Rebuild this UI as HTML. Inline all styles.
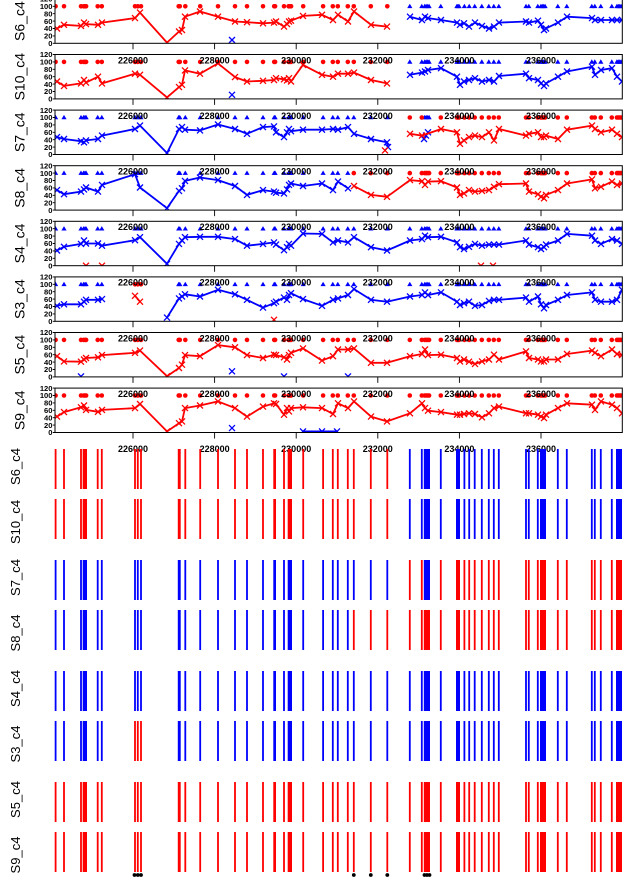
<!DOCTYPE html>
<html><head><meta charset="utf-8">
<style>
html,body{margin:0;padding:0;background:#fff;}
svg{display:block;}
.lr{fill:none;stroke:#f00;stroke-width:1.8;stroke-linejoin:round;marker-start:url(#xr);marker-mid:url(#xr);marker-end:url(#xr);}
.lb{fill:none;stroke:#00f;stroke-width:1.8;stroke-linejoin:round;marker-start:url(#xb);marker-mid:url(#xb);marker-end:url(#xb);}
.pr{fill:none;stroke:none;marker-start:url(#dr);marker-mid:url(#dr);marker-end:url(#dr);}
.pb{fill:none;stroke:none;marker-start:url(#tb);marker-mid:url(#tb);marker-end:url(#tb);}
.exr{fill:none;stroke:#f00;stroke-width:1.3;}
.exb{fill:none;stroke:#00f;stroke-width:1.3;}
.box{fill:none;stroke:#000;stroke-width:1;}
.tk{fill:none;stroke:#000;stroke-width:0.9;}
.yl{font-family:"Liberation Sans",Arial,sans-serif;font-size:7.6px;font-weight:bold;text-anchor:end;fill:#000;}
.xl{font-family:"Liberation Sans",Arial,sans-serif;font-size:9px;font-weight:bold;text-anchor:middle;fill:#000;}
.lab{font-family:"Liberation Sans",Arial,sans-serif;font-size:14px;text-anchor:middle;fill:#000;}
.lab2{font-family:"Liberation Sans",Arial,sans-serif;font-size:13px;text-anchor:middle;fill:#000;}
.br{fill:none;stroke:#f00;stroke-width:1.8;}
.bb{fill:none;stroke:#00f;stroke-width:1.8;}
</style></head>
<body>
<svg width="626" height="881" viewBox="0 0 626 881" xmlns="http://www.w3.org/2000/svg">
<defs>
<marker id="xr" markerUnits="userSpaceOnUse" markerWidth="10" markerHeight="10" refX="5" refY="5" overflow="visible"><path d="M2,2L8,8M2,8L8,2" stroke="#f00" stroke-width="1.3" fill="none"/></marker>
<marker id="xb" markerUnits="userSpaceOnUse" markerWidth="10" markerHeight="10" refX="5" refY="5" overflow="visible"><path d="M2,2L8,8M2,8L8,2" stroke="#00f" stroke-width="1.3" fill="none"/></marker>
<marker id="dr" markerUnits="userSpaceOnUse" markerWidth="10" markerHeight="10" refX="5" refY="5" overflow="visible"><circle cx="5" cy="5" r="2.3" fill="#f00"/></marker>
<marker id="tb" markerUnits="userSpaceOnUse" markerWidth="10" markerHeight="10" refX="5" refY="5" overflow="visible"><path d="M5,2.4L7.6,6.8L2.4,6.8Z" fill="#00f"/></marker>
<clipPath id="c0"><rect x="55" y="-1.1" width="567.3" height="44.4"/></clipPath>
<clipPath id="c1"><rect x="55" y="54.5" width="567.3" height="44.4"/></clipPath>
<clipPath id="c2"><rect x="55" y="110.1" width="567.3" height="44.4"/></clipPath>
<clipPath id="c3"><rect x="55" y="165.7" width="567.3" height="44.4"/></clipPath>
<clipPath id="c4"><rect x="55" y="221.3" width="567.3" height="44.4"/></clipPath>
<clipPath id="c5"><rect x="55" y="276.9" width="567.3" height="44.4"/></clipPath>
<clipPath id="c6"><rect x="55" y="332.5" width="567.3" height="44.4"/></clipPath>
<clipPath id="c7"><rect x="55" y="388.1" width="567.3" height="44.4"/></clipPath>
</defs>
<rect x="0" y="0" width="626" height="881" fill="#fff"/>

<!-- ===== Panel 0 S6 ===== -->
<g clip-path="url(#c0)"><g transform="translate(0,43.3)">
<polyline class="pr" transform="translate(0,-37)" points="55.6,0 64,0 81,0 83.6,0 85,0 86.1,0 97.7,0 101.8,0 178.7,0 179.8,0 185.3,0 200.2,0 218,0 235,0 247,0 263,0 274.2,0 275.1,0 284,0 288.6,0 290,0 291.1,0 303.2,0 135,0 137.8,0 141,0 323.1,0 332.8,0 337.8,0 347.8,0 353.8,0 370.8,0 387.3,0"/>
<polyline class="pb" transform="translate(0,-37)" points="409.8,0 421.8,0 424.7,0 426.2,0 427.7,0 429.1,0 440.8,0 456.9,0 458,0 459.1,0 464.4,0 469.2,0 474.7,0 481.8,0 488.8,0 493.8,0 498.8,0 526,0 528.8,0 537.8,0 540.9,0 542.3,0 543.7,0 545.1,0 557.8,0 566.8,0 591.8,0 594.8,0 600.8,0 611.8,0 616.9,0 618.3,0 619.7,0 621.1,0"/>
<polyline class="lr" points="57,-14.8 64,-18.5 81,-17.4 84,-20.7 86,-19.2 98,-18.5 102,-20.7 135,-25.2 140,-30.7 167,-0.7 179,-11.8 182,-13.3 185,-26.6 200,-31.8 218,-26.6 235,-21.8 247,-21.1 263,-20 274,-20.7 276,-21.8 284,-16.7 287,-19.2 289,-21.8 291,-22.6 303,-27.4 322,-28.5 333,-23.3 338,-28.5 348,-21.8 354,-31.8 371,-18.5 387,-16.7"/>
<polyline class="lb" points="410,-26.6 422,-23.3 425,-26.6 428,-25.2 441,-23.3 457,-20.7 460,-18.5 464,-20 469,-16.7 475,-20.7 482,-17.4 489,-14.8 494,-16.7 499,-20.7 526,-21.8 529,-20.7 538,-22.6 541,-18.5 544,-13.3 546,-14.8 558,-20.7 567,-26.6 592,-25.2 595,-23.3 601,-23.3 612,-23.3 617,-23.3 622,-23.3"/>
<path class="exb" d="M229,-6.3l6,6m-6,0l6,-6"/>
</g></g>
<g transform="translate(0,43.3)">
<rect class="box" x="55" y="-44.4" width="567.3" height="44.4"/>
<path class="tk" d="M52.8 0H55M52.8 -7.4H55M52.8 -14.8H55M52.8 -22.2H55M52.8 -29.6H55M52.8 -37H55M52.8 -44.4H55M133 0V6M214.6 0V6M296.2 0V6M377.8 0V6M459.4 0V6M541 0V6"/>
<text class="yl" x="52.5" y="2.7">0</text><text class="yl" x="52.5" y="-4.7">20</text><text class="yl" x="52.5" y="-12.1">40</text><text class="yl" x="52.5" y="-19.5">60</text><text class="yl" x="52.5" y="-26.9">80</text><text class="yl" x="52.5" y="-34.3">100</text><text class="yl" x="52.5" y="-41.7">120</text>
</g>
<text class="lab" transform="translate(24.5,21.1) rotate(-90)">S6_c4</text>

<!-- ===== Panel 1 S10 ===== -->
<g clip-path="url(#c1)"><g transform="translate(0,98.9)">
<polyline class="pr" transform="translate(0,-37)" points="55.6,0 64,0 81,0 83.6,0 85,0 86.1,0 97.7,0 101.8,0 178.7,0 179.8,0 185.3,0 200.2,0 218,0 235,0 247,0 263,0 274.2,0 275.1,0 284,0 288.6,0 290,0 291.1,0 303.2,0 135,0 137.8,0 141,0 323.1,0 332.8,0 337.8,0 347.8,0 353.8,0 370.8,0 387.3,0"/>
<polyline class="pb" transform="translate(0,-37)" points="409.8,0 421.8,0 424.7,0 426.2,0 427.7,0 429.1,0 440.8,0 456.9,0 458,0 459.1,0 464.4,0 469.2,0 474.7,0 481.8,0 488.8,0 493.8,0 498.8,0 526,0 528.8,0 537.8,0 540.9,0 542.3,0 543.7,0 545.1,0 557.8,0 566.8,0 591.8,0 594.8,0 600.8,0 611.8,0 616.9,0 618.3,0 619.7,0 621.1,0"/>
<polyline class="lr" points="57,-17.4 64,-13 81,-15.5 84,-18.9 86,-16.3 98,-22.2 102,-15.5 135,-25.2 140,-24.1 167,-1.5 179,-11.8 182,-14.1 185,-28.5 200,-25.2 218,-35.5 235,-21.8 247,-17.4 263,-18.1 274,-18.9 276,-20.7 284,-19.6 287,-18.5 289,-20.7 291,-17.4 303,-34 322,-24.1 333,-22.2 338,-25.2 348,-25.2 354,-26.3 371,-18.9 387,-15.5"/>
<polyline class="lb" points="410,-24.1 422,-26.3 425,-27.4 428,-28.9 441,-30.7 457,-22.2 460,-14.1 464,-17.4 469,-18.9 475,-20.7 482,-17.4 489,-18.9 494,-17.4 499,-22.9 526,-25.2 529,-20.7 538,-18.9 541,-15.5 544,-13 546,-15.5 558,-22.2 567,-27.4 592,-32.2 595,-24.1 601,-28.9 612,-30.7 617,-22.2 622,-17.4"/>
<path class="exb" d="M229,-7.1l6,6m-6,0l6,-6"/>
</g></g>
<g transform="translate(0,98.9)">
<rect class="box" x="55" y="-44.4" width="567.3" height="44.4"/>
<path class="tk" d="M52.8 0H55M52.8 -7.4H55M52.8 -14.8H55M52.8 -22.2H55M52.8 -29.6H55M52.8 -37H55M52.8 -44.4H55M133 0V6M214.6 0V6M296.2 0V6M377.8 0V6M459.4 0V6M541 0V6"/>
<text class="yl" x="52.5" y="2.7">0</text><text class="yl" x="52.5" y="-4.7">20</text><text class="yl" x="52.5" y="-12.1">40</text><text class="yl" x="52.5" y="-19.5">60</text><text class="yl" x="52.5" y="-26.9">80</text><text class="yl" x="52.5" y="-34.3">100</text><text class="yl" x="52.5" y="-41.7">120</text>
</g>
<text class="lab" transform="translate(24.5,76.7) rotate(-90)">S10_c4</text>

<!-- ===== Panel 2 S7 ===== -->
<g clip-path="url(#c2)"><g transform="translate(0,154.5)">
<polyline class="pb" transform="translate(0,-37)" points="55.6,0 64,0 81,0 83.6,0 85,0 86.1,0 97.7,0 101.8,0 178.7,0 179.8,0 185.3,0 200.2,0 218,0 235,0 247,0 263,0 274.2,0 275.1,0 284,0 288.6,0 290,0 291.1,0 303.2,0 135,0 137.8,0 141,0 323.1,0 332.8,0 337.8,0 347.8,0 353.8,0 370.8,0 387.3,0 424.7,0 426.2,0 427.7,0 429.1,0"/>
<polyline class="pr" transform="translate(0,-37)" points="409.8,0 421.8,0 440.8,0 456.9,0 458,0 459.1,0 464.4,0 469.2,0 474.7,0 481.8,0 488.8,0 493.8,0 498.8,0 526,0 528.8,0 537.8,0 540.9,0 542.3,0 543.7,0 545.1,0 557.8,0 566.8,0 591.8,0 594.8,0 600.8,0 611.8,0 616.9,0 618.3,0 619.7,0 621.1,0"/>
<polyline class="lb" points="57,-17.4 64,-15.5 81,-13.3 84,-12.2 86,-14.1 98,-15.5 102,-18.9 135,-25.5 140,-28.9 167,-1.5 179,-25.5 182,-27.4 185,-24.8 200,-24.1 218,-30 235,-25.5 247,-20.7 263,-27.4 274,-28.1 276,-22.2 284,-17.4 287,-22.2 289,-25.5 291,-23.3 303,-24.8 322,-24.8 333,-25.5 338,-24.8 348,-27.4 354,-20.7 371,-15.5 387,-12.2 388,-7.4"/>
<polyline class="lb" points="424,-15.5 426,-18.9 428,-22.2"/>
<polyline class="lr" points="410,-20.7 422,-18.9 441,-25.5 457,-22.2 460,-10.7 464,-14.1 469,-17.4 475,-18.9 482,-17.4 489,-22.2 494,-14.1 499,-25.5 526,-18.9 529,-20.7 538,-22.2 541,-17.4 544,-17.4 546,-18.9 558,-15.5 567,-24.8 592,-28.9 595,-25.5 601,-22.2 612,-24.8 617,-20.7 622,-17.4"/>
<path class="exr" d="M382,-7.1l6,6m-6,0l6,-6"/>
</g></g>
<g transform="translate(0,154.5)">
<rect class="box" x="55" y="-44.4" width="567.3" height="44.4"/>
<path class="tk" d="M52.8 0H55M52.8 -7.4H55M52.8 -14.8H55M52.8 -22.2H55M52.8 -29.6H55M52.8 -37H55M52.8 -44.4H55M133 0V6M214.6 0V6M296.2 0V6M377.8 0V6M459.4 0V6M541 0V6"/>
<text class="yl" x="52.5" y="2.7">0</text><text class="yl" x="52.5" y="-4.7">20</text><text class="yl" x="52.5" y="-12.1">40</text><text class="yl" x="52.5" y="-19.5">60</text><text class="yl" x="52.5" y="-26.9">80</text><text class="yl" x="52.5" y="-34.3">100</text><text class="yl" x="52.5" y="-41.7">120</text>
</g>
<text class="lab" transform="translate(24.5,132.3) rotate(-90)">S7_c4</text>

<!-- ===== Panel 3 S8 ===== -->
<g clip-path="url(#c3)"><g transform="translate(0,210.1)">
<polyline class="pb" transform="translate(0,-37)" points="55.6,0 64,0 81,0 83.6,0 85,0 86.1,0 97.7,0 101.8,0 178.7,0 179.8,0 185.3,0 200.2,0 218,0 235,0 247,0 263,0 274.2,0 275.1,0 284,0 288.6,0 290,0 291.1,0 303.2,0 135,0 137.8,0 141,0 323.1,0 332.8,0 337.8,0 347.8,0"/>
<polyline class="pr" transform="translate(0,-37)" points="353.8,0 370.8,0 387.3,0 409.8,0 421.8,0 424.7,0 426.2,0 427.7,0 429.1,0 440.8,0 456.9,0 458,0 459.1,0 464.4,0 469.2,0 474.7,0 481.8,0 488.8,0 493.8,0 498.8,0 526,0 528.8,0 537.8,0 540.9,0 542.3,0 543.7,0 545.1,0 557.8,0 566.8,0 591.8,0 594.8,0 600.8,0 611.8,0 616.9,0 618.3,0 619.7,0 621.1,0"/>
<polyline class="lb" points="57,-20 64,-15.9 81,-18.5 84,-20.7 86,-22.6 98,-18.5 102,-25.2 135,-35.9 140,-22.6 167,-1.9 179,-19.2 182,-21.8 185,-29.2 200,-32.6 218,-30 235,-24.1 247,-15.2 263,-20 274,-18.5 276,-17.4 284,-16.7 287,-20.7 289,-25.2 291,-26.6 303,-24.1 322,-26.6 333,-20 338,-28.5 348,-21.8"/>
<polyline class="lr" points="354,-24.1 371,-15.2 387,-13.3 410,-30 422,-28.9 425,-25.2 428,-28.5 441,-28.9 457,-22.6 460,-15.2 464,-16.7 469,-20 475,-18.5 482,-19.2 489,-20 494,-23.3 499,-25.9 526,-26.6 529,-18.5 538,-15.9 541,-13.3 544,-11.8 546,-15.2 558,-20 567,-26.6 592,-30.7 595,-21.8 601,-23.3 612,-28.5 617,-25.2 622,-26.6"/>
</g></g>
<g transform="translate(0,210.1)">
<rect class="box" x="55" y="-44.4" width="567.3" height="44.4"/>
<path class="tk" d="M52.8 0H55M52.8 -7.4H55M52.8 -14.8H55M52.8 -22.2H55M52.8 -29.6H55M52.8 -37H55M52.8 -44.4H55M133 0V6M214.6 0V6M296.2 0V6M377.8 0V6M459.4 0V6M541 0V6"/>
<text class="yl" x="52.5" y="2.7">0</text><text class="yl" x="52.5" y="-4.7">20</text><text class="yl" x="52.5" y="-12.1">40</text><text class="yl" x="52.5" y="-19.5">60</text><text class="yl" x="52.5" y="-26.9">80</text><text class="yl" x="52.5" y="-34.3">100</text><text class="yl" x="52.5" y="-41.7">120</text>
</g>
<text class="lab" transform="translate(24.5,187.9) rotate(-90)">S8_c4</text>

<!-- ===== Panel 4 S4 ===== -->
<g clip-path="url(#c4)"><g transform="translate(0,265.7)">
<polyline class="pb" transform="translate(0,-37)" points="55.6,0 64,0 81,0 83.6,0 85,0 86.1,0 97.7,0 101.8,0 178.7,0 179.8,0 185.3,0 200.2,0 218,0 235,0 247,0 263,0 274.2,0 275.1,0 284,0 288.6,0 290,0 291.1,0 303.2,0 135,0 137.8,0 141,0 323.1,0 332.8,0 337.8,0 347.8,0 353.8,0 370.8,0 387.3,0 409.8,0 421.8,0 424.7,0 426.2,0 427.7,0 429.1,0 440.8,0 456.9,0 458,0 459.1,0 464.4,0 469.2,0 474.7,0 481.8,0 488.8,0 493.8,0 498.8,0 526,0 528.8,0 537.8,0 540.9,0 542.3,0 543.7,0 545.1,0 557.8,0 566.8,0 591.8,0 594.8,0 600.8,0 611.8,0 616.9,0 618.3,0 619.7,0 621.1,0"/>
<polyline class="lb" points="57,-15.2 64,-18.9 81,-21.8 84,-25.2 86,-22.2 98,-22.2 102,-20 135,-25.5 140,-28.5 167,-1.9 179,-21.8 182,-25.2 185,-28.5 200,-28.9 218,-28.9 235,-26.6 247,-20 263,-21.8 274,-23.3 276,-21.1 284,-15.5 287,-18.5 289,-21.8 291,-20 303,-32.2 322,-31.8 333,-23.3 338,-25.2 348,-23.3 354,-28.5 371,-18.5 387,-15.2 410,-25.2 422,-26.6 425,-30 428,-28.5 441,-28.9 457,-23.3 460,-18.5 464,-16.7 469,-18.9 475,-21.8 482,-20 489,-21.1 494,-21.1 499,-21.1 526,-25.2 529,-21.1 538,-18.5 541,-16.7 544,-18.5 546,-21.1 558,-25.2 567,-31.8 592,-30 595,-25.2 601,-21.8 612,-26.6 617,-25.2 622,-21.8"/>
<path class="exr" d="M83,-3l6,6m-6,0l6,-6M99,-3l6,6m-6,0l6,-6M478,-3l6,6m-6,0l6,-6M490,-3l6,6m-6,0l6,-6"/>
</g></g>
<g transform="translate(0,265.7)">
<rect class="box" x="55" y="-44.4" width="567.3" height="44.4"/>
<path class="tk" d="M52.8 0H55M52.8 -7.4H55M52.8 -14.8H55M52.8 -22.2H55M52.8 -29.6H55M52.8 -37H55M52.8 -44.4H55M133 0V6M214.6 0V6M296.2 0V6M377.8 0V6M459.4 0V6M541 0V6"/>
<text class="yl" x="52.5" y="2.7">0</text><text class="yl" x="52.5" y="-4.7">20</text><text class="yl" x="52.5" y="-12.1">40</text><text class="yl" x="52.5" y="-19.5">60</text><text class="yl" x="52.5" y="-26.9">80</text><text class="yl" x="52.5" y="-34.3">100</text><text class="yl" x="52.5" y="-41.7">120</text>
</g>
<text class="lab" transform="translate(24.5,243.5) rotate(-90)">S4_c4</text>

<!-- ===== Panel 5 S3 ===== -->
<g clip-path="url(#c5)"><g transform="translate(0,321.3)">
<polyline class="pb" transform="translate(0,-37)" points="55.6,0 64,0 81,0 83.6,0 85,0 86.1,0 97.7,0 101.8,0 178.7,0 179.8,0 185.3,0 200.2,0 218,0 235,0 247,0 263,0 274.2,0 275.1,0 284,0 288.6,0 290,0 291.1,0 303.2,0 323.1,0 332.8,0 337.8,0 347.8,0 353.8,0 370.8,0 387.3,0 409.8,0 421.8,0 424.7,0 426.2,0 427.7,0 429.1,0 440.8,0 456.9,0 458,0 459.1,0 464.4,0 469.2,0 474.7,0 481.8,0 488.8,0 493.8,0 498.8,0 526,0 528.8,0 537.8,0 540.9,0 542.3,0 543.7,0 545.1,0 557.8,0 566.8,0 591.8,0 594.8,0 600.8,0 611.8,0 616.9,0 618.3,0 619.7,0 621.1,0"/>
<polyline class="pr" transform="translate(0,-37)" points="135,0 137.8,0 141,0"/>
<polyline class="lb" points="57,-15.5 64,-17 81,-17 84,-19.6 86,-21.5 98,-21.5 102,-22.2"/>
<polyline class="lr" points="135,-25.5 140,-19.6"/>
<polyline class="lb" points="167,-3.7 179,-22.9 182,-24.8 185,-27 200,-24.8 218,-31.5 235,-27 247,-21.5 263,-13.7 274,-18.1 276,-19.6 284,-23.7 287,-21.5 289,-26.3 291,-28.1 303,-22.2 322,-15.5 333,-21.5 338,-22.9 348,-26.3 354,-32.2 371,-21.5 387,-19.6 410,-24.8 422,-26.3 425,-28.9 428,-26.3 441,-28.9 457,-19.6 460,-16.3 464,-18.1 469,-19.6 475,-15.5 482,-16.3 489,-20.4 494,-21.5 499,-21.5 526,-23.7 529,-19.6 538,-24.8 541,-17 544,-13 546,-16.3 558,-21.5 567,-26.3 592,-28.9 595,-21.5 601,-19.6 612,-19.6 617,-21.5 622,-31.5"/>
<path class="exr" d="M271,-4.5l6,6m-6,0l6,-6"/>
</g></g>
<g transform="translate(0,321.3)">
<rect class="box" x="55" y="-44.4" width="567.3" height="44.4"/>
<path class="tk" d="M52.8 0H55M52.8 -7.4H55M52.8 -14.8H55M52.8 -22.2H55M52.8 -29.6H55M52.8 -37H55M52.8 -44.4H55M133 0V6M214.6 0V6M296.2 0V6M377.8 0V6M459.4 0V6M541 0V6"/>
<text class="yl" x="52.5" y="2.7">0</text><text class="yl" x="52.5" y="-4.7">20</text><text class="yl" x="52.5" y="-12.1">40</text><text class="yl" x="52.5" y="-19.5">60</text><text class="yl" x="52.5" y="-26.9">80</text><text class="yl" x="52.5" y="-34.3">100</text><text class="yl" x="52.5" y="-41.7">120</text>
</g>
<text class="lab" transform="translate(24.5,299.1) rotate(-90)">S3_c4</text>

<!-- ===== Panel 6 S5 ===== -->
<g clip-path="url(#c6)"><g transform="translate(0,376.9)">
<polyline class="pr" transform="translate(0,-37)" points="55.6,0 64,0 81,0 83.6,0 85,0 86.1,0 97.7,0 101.8,0 178.7,0 179.8,0 185.3,0 200.2,0 218,0 235,0 247,0 263,0 274.2,0 275.1,0 284,0 288.6,0 290,0 291.1,0 303.2,0 135,0 137.8,0 141,0 323.1,0 332.8,0 337.8,0 347.8,0 353.8,0 370.8,0 387.3,0 409.8,0 421.8,0 424.7,0 426.2,0 427.7,0 429.1,0 440.8,0 456.9,0 458,0 459.1,0 464.4,0 469.2,0 474.7,0 481.8,0 488.8,0 493.8,0 498.8,0 526,0 528.8,0 537.8,0 540.9,0 542.3,0 543.7,0 545.1,0 557.8,0 566.8,0 591.8,0 594.8,0 600.8,0 611.8,0 616.9,0 618.3,0 619.7,0 621.1,0"/>
<polyline class="lr" points="57,-20.7 64,-15.5 81,-15.2 84,-17.4 86,-18.9 98,-19.6 102,-21.8 135,-24.1 140,-26.3 167,-0.7 179,-8.9 182,-12.2 185,-21.8 200,-20.7 218,-31.8 235,-29.6 247,-21.8 263,-18.9 274,-22.2 276,-21.8 284,-19.6 287,-17.4 289,-21.8 291,-24.1 303,-28.5 322,-16.3 333,-20.7 338,-27.4 348,-27.4 354,-28.5 371,-14.1 387,-14.1 410,-20.7 422,-22.9 425,-27.4 428,-21.8 441,-22.2 457,-18.9 460,-15.5 464,-17.4 469,-15.2 475,-13 482,-15.5 489,-17.4 494,-22.2 499,-17.4 526,-25.5 529,-18.9 538,-17.4 541,-15.5 544,-15.5 546,-17.4 558,-17.4 567,-22.9 592,-26.3 595,-24.1 601,-20.7 612,-27.4 617,-22.9 622,-21.8"/>
<path class="exb" d="M78,-3.5l6,6m-6,0l6,-6M281,-3.5l6,6m-6,0l6,-6M229,-8.6l6,6m-6,0l6,-6M345,-3.5l6,6m-6,0l6,-6"/>
</g></g>
<g transform="translate(0,376.9)">
<rect class="box" x="55" y="-44.4" width="567.3" height="44.4"/>
<path class="tk" d="M52.8 0H55M52.8 -7.4H55M52.8 -14.8H55M52.8 -22.2H55M52.8 -29.6H55M52.8 -37H55M52.8 -44.4H55M133 0V6M214.6 0V6M296.2 0V6M377.8 0V6M459.4 0V6M541 0V6"/>
<text class="yl" x="52.5" y="2.7">0</text><text class="yl" x="52.5" y="-4.7">20</text><text class="yl" x="52.5" y="-12.1">40</text><text class="yl" x="52.5" y="-19.5">60</text><text class="yl" x="52.5" y="-26.9">80</text><text class="yl" x="52.5" y="-34.3">100</text><text class="yl" x="52.5" y="-41.7">120</text>
</g>
<text class="lab" transform="translate(24.5,354.7) rotate(-90)">S5_c4</text>

<!-- ===== Panel 7 S9 ===== -->
<g clip-path="url(#c7)"><g transform="translate(0,432.5)">
<polyline class="pr" transform="translate(0,-37)" points="55.6,0 64,0 81,0 83.6,0 85,0 86.1,0 97.7,0 101.8,0 178.7,0 179.8,0 185.3,0 200.2,0 218,0 235,0 247,0 263,0 274.2,0 275.1,0 284,0 288.6,0 290,0 291.1,0 303.2,0 135,0 137.8,0 141,0 323.1,0 332.8,0 337.8,0 347.8,0 353.8,0 370.8,0 387.3,0 409.8,0 421.8,0 424.7,0 426.2,0 427.7,0 429.1,0 440.8,0 456.9,0 458,0 459.1,0 464.4,0 469.2,0 474.7,0 481.8,0 488.8,0 493.8,0 498.8,0 526,0 528.8,0 537.8,0 540.9,0 542.3,0 543.7,0 545.1,0 557.8,0 566.8,0 591.8,0 594.8,0 600.8,0 611.8,0 616.9,0 618.3,0 619.7,0 621.1,0"/>
<polyline class="lr" points="57,-15.9 64,-20.4 81,-25.2 84,-27 86,-22.6 98,-20.7 102,-22.6 135,-24.4 140,-28.5 167,-1.1 179,-9.3 182,-11.1 185,-24.4 200,-27 218,-31.1 235,-24.4 247,-15.9 263,-25.9 274,-29.2 276,-28.5 284,-17.8 287,-24.4 289,-21.1 291,-24.4 303,-25.2 322,-24.4 333,-18.5 338,-29.2 348,-24.4 354,-31.1 371,-15.9 387,-11.1 410,-19.2 422,-29.2 425,-24.4 428,-21.8 441,-20.4 457,-17.8 460,-17.8 464,-18.5 469,-19.2 475,-18.5 482,-15.2 489,-19.2 494,-24.4 499,-25.9 526,-19.2 529,-19.2 538,-17.8 541,-15.9 544,-14.4 546,-17.8 558,-24.4 567,-29.2 592,-27.8 595,-22.6 601,-31.1 612,-27.8 617,-24.4 622,-19.2"/>
<polyline class="lb" points="303,-1.1 322,-1.1 337,-1.1"/>
<path class="exb" d="M229,-7.4l6,6m-6,0l6,-6"/>
</g></g>
<g transform="translate(0,432.5)">
<rect class="box" x="55" y="-44.4" width="567.3" height="44.4"/>
<path class="tk" d="M52.8 0H55M52.8 -7.4H55M52.8 -14.8H55M52.8 -22.2H55M52.8 -29.6H55M52.8 -37H55M52.8 -44.4H55M133 0V6M214.6 0V6M296.2 0V6M377.8 0V6M459.4 0V6M541 0V6"/>
<text class="yl" x="52.5" y="2.7">0</text><text class="yl" x="52.5" y="-4.7">20</text><text class="yl" x="52.5" y="-12.1">40</text><text class="yl" x="52.5" y="-19.5">60</text><text class="yl" x="52.5" y="-26.9">80</text><text class="yl" x="52.5" y="-34.3">100</text><text class="yl" x="52.5" y="-41.7">120</text>
</g>
<text class="lab" transform="translate(24.5,410.3) rotate(-90)">S9_c4</text>

<!-- x tick labels (drawn on top) -->
<g transform="translate(0,63.3)"><text class="xl" x="133" y="0">226000</text><text class="xl" x="214.6" y="0">228000</text><text class="xl" x="296.2" y="0">230000</text><text class="xl" x="377.8" y="0">232000</text><text class="xl" x="459.4" y="0">234000</text><text class="xl" x="541" y="0">236000</text></g>
<g transform="translate(0,118.9)"><text class="xl" x="133" y="0">226000</text><text class="xl" x="214.6" y="0">228000</text><text class="xl" x="296.2" y="0">230000</text><text class="xl" x="377.8" y="0">232000</text><text class="xl" x="459.4" y="0">234000</text><text class="xl" x="541" y="0">236000</text></g>
<g transform="translate(0,174.5)"><text class="xl" x="133" y="0">226000</text><text class="xl" x="214.6" y="0">228000</text><text class="xl" x="296.2" y="0">230000</text><text class="xl" x="377.8" y="0">232000</text><text class="xl" x="459.4" y="0">234000</text><text class="xl" x="541" y="0">236000</text></g>
<g transform="translate(0,230.1)"><text class="xl" x="133" y="0">226000</text><text class="xl" x="214.6" y="0">228000</text><text class="xl" x="296.2" y="0">230000</text><text class="xl" x="377.8" y="0">232000</text><text class="xl" x="459.4" y="0">234000</text><text class="xl" x="541" y="0">236000</text></g>
<g transform="translate(0,285.7)"><text class="xl" x="133" y="0">226000</text><text class="xl" x="214.6" y="0">228000</text><text class="xl" x="296.2" y="0">230000</text><text class="xl" x="377.8" y="0">232000</text><text class="xl" x="459.4" y="0">234000</text><text class="xl" x="541" y="0">236000</text></g>
<g transform="translate(0,341.3)"><text class="xl" x="133" y="0">226000</text><text class="xl" x="214.6" y="0">228000</text><text class="xl" x="296.2" y="0">230000</text><text class="xl" x="377.8" y="0">232000</text><text class="xl" x="459.4" y="0">234000</text><text class="xl" x="541" y="0">236000</text></g>
<g transform="translate(0,396.9)"><text class="xl" x="133" y="0">226000</text><text class="xl" x="214.6" y="0">228000</text><text class="xl" x="296.2" y="0">230000</text><text class="xl" x="377.8" y="0">232000</text><text class="xl" x="459.4" y="0">234000</text><text class="xl" x="541" y="0">236000</text></g>
<g transform="translate(0,451.8)"><text class="xl" x="133" y="0">226000</text><text class="xl" x="214.6" y="0">228000</text><text class="xl" x="296.2" y="0">230000</text><text class="xl" x="377.8" y="0">232000</text><text class="xl" x="459.4" y="0">234000</text><text class="xl" x="541" y="0">236000</text></g>

<!-- ===== Barcode rows ===== -->
<!-- S6 -->
<g transform="translate(0,449)">
<path class="br" d="M55.6 0V40M64 0V40M81 0V40M83.6 0V40M85 0V40M86.1 0V40M97.7 0V40M101.8 0V40M178.7 0V40M179.8 0V40M185.3 0V40M200.2 0V40M218 0V40M235 0V40M247 0V40M263 0V40M274.2 0V40M275.1 0V40M284 0V40M288.6 0V40M290 0V40M291.1 0V40M303.2 0V40M135 0V40M137.8 0V40M141 0V40M323.1 0V40M332.8 0V40M337.8 0V40M347.8 0V40M353.8 0V40M370.8 0V40M387.3 0V40"/>
<path class="bb" d="M409.8 0V40M421.8 0V40M424.7 0V40M426.2 0V40M427.7 0V40M429.1 0V40M440.8 0V40M456.9 0V40M458 0V40M459.1 0V40M464.4 0V40M469.2 0V40M474.7 0V40M481.8 0V40M488.8 0V40M493.8 0V40M498.8 0V40M526 0V40M528.8 0V40M537.8 0V40M540.9 0V40M542.3 0V40M543.7 0V40M545.1 0V40M557.8 0V40M566.8 0V40M591.8 0V40M594.8 0V40M600.8 0V40M611.8 0V40M616.9 0V40M618.3 0V40M619.7 0V40M621.1 0V40"/>
</g>
<!-- S10 -->
<g transform="translate(0,499)">
<path class="br" d="M55.6 0V40M64 0V40M81 0V40M83.6 0V40M85 0V40M86.1 0V40M97.7 0V40M101.8 0V40M178.7 0V40M179.8 0V40M185.3 0V40M200.2 0V40M218 0V40M235 0V40M247 0V40M263 0V40M274.2 0V40M275.1 0V40M284 0V40M288.6 0V40M290 0V40M291.1 0V40M303.2 0V40M135 0V40M137.8 0V40M141 0V40M323.1 0V40M332.8 0V40M337.8 0V40M347.8 0V40M353.8 0V40M370.8 0V40M387.3 0V40"/>
<path class="bb" d="M409.8 0V40M421.8 0V40M424.7 0V40M426.2 0V40M427.7 0V40M429.1 0V40M440.8 0V40M456.9 0V40M458 0V40M459.1 0V40M464.4 0V40M469.2 0V40M474.7 0V40M481.8 0V40M488.8 0V40M493.8 0V40M498.8 0V40M526 0V40M528.8 0V40M537.8 0V40M540.9 0V40M542.3 0V40M543.7 0V40M545.1 0V40M557.8 0V40M566.8 0V40M591.8 0V40M594.8 0V40M600.8 0V40M611.8 0V40M616.9 0V40M618.3 0V40M619.7 0V40M621.1 0V40"/>
</g>
<!-- S7 -->
<g transform="translate(0,560)">
<path class="bb" d="M55.6 0V40M64 0V40M81 0V40M83.6 0V40M85 0V40M86.1 0V40M97.7 0V40M101.8 0V40M178.7 0V40M179.8 0V40M185.3 0V40M200.2 0V40M218 0V40M235 0V40M247 0V40M263 0V40M274.2 0V40M275.1 0V40M284 0V40M288.6 0V40M290 0V40M291.1 0V40M303.2 0V40M135 0V40M137.8 0V40M141 0V40M323.1 0V40M332.8 0V40M337.8 0V40M347.8 0V40M353.8 0V40M370.8 0V40M387.3 0V40M424.7 0V40M426.2 0V40M427.7 0V40M429.1 0V40"/>
<path class="br" d="M409.8 0V40M421.8 0V40M440.8 0V40M456.9 0V40M458 0V40M459.1 0V40M464.4 0V40M469.2 0V40M474.7 0V40M481.8 0V40M488.8 0V40M493.8 0V40M498.8 0V40M526 0V40M528.8 0V40M537.8 0V40M540.9 0V40M542.3 0V40M543.7 0V40M545.1 0V40M557.8 0V40M566.8 0V40M591.8 0V40M594.8 0V40M600.8 0V40M611.8 0V40M616.9 0V40M618.3 0V40M619.7 0V40M621.1 0V40"/>
</g>
<!-- S8 -->
<g transform="translate(0,610)">
<path class="bb" d="M55.6 0V40M64 0V40M81 0V40M83.6 0V40M85 0V40M86.1 0V40M97.7 0V40M101.8 0V40M178.7 0V40M179.8 0V40M185.3 0V40M200.2 0V40M218 0V40M235 0V40M247 0V40M263 0V40M274.2 0V40M275.1 0V40M284 0V40M288.6 0V40M290 0V40M291.1 0V40M303.2 0V40M135 0V40M137.8 0V40M141 0V40M323.1 0V40M332.8 0V40M337.8 0V40M347.8 0V40"/>
<path class="br" d="M353.8 0V40M370.8 0V40M387.3 0V40M409.8 0V40M421.8 0V40M424.7 0V40M426.2 0V40M427.7 0V40M429.1 0V40M440.8 0V40M456.9 0V40M458 0V40M459.1 0V40M464.4 0V40M469.2 0V40M474.7 0V40M481.8 0V40M488.8 0V40M493.8 0V40M498.8 0V40M526 0V40M528.8 0V40M537.8 0V40M540.9 0V40M542.3 0V40M543.7 0V40M545.1 0V40M557.8 0V40M566.8 0V40M591.8 0V40M594.8 0V40M600.8 0V40M611.8 0V40M616.9 0V40M618.3 0V40M619.7 0V40M621.1 0V40"/>
</g>
<!-- S4 -->
<g transform="translate(0,671)">
<path class="bb" d="M55.6 0V40M64 0V40M81 0V40M83.6 0V40M85 0V40M86.1 0V40M97.7 0V40M101.8 0V40M178.7 0V40M179.8 0V40M185.3 0V40M200.2 0V40M218 0V40M235 0V40M247 0V40M263 0V40M274.2 0V40M275.1 0V40M284 0V40M288.6 0V40M290 0V40M291.1 0V40M303.2 0V40M135 0V40M137.8 0V40M141 0V40M323.1 0V40M332.8 0V40M337.8 0V40M347.8 0V40M353.8 0V40M370.8 0V40M387.3 0V40M409.8 0V40M421.8 0V40M424.7 0V40M426.2 0V40M427.7 0V40M429.1 0V40M440.8 0V40M456.9 0V40M458 0V40M459.1 0V40M464.4 0V40M469.2 0V40M474.7 0V40M481.8 0V40M488.8 0V40M493.8 0V40M498.8 0V40M526 0V40M528.8 0V40M537.8 0V40M540.9 0V40M542.3 0V40M543.7 0V40M545.1 0V40M557.8 0V40M566.8 0V40M591.8 0V40M594.8 0V40M600.8 0V40M611.8 0V40M616.9 0V40M618.3 0V40M619.7 0V40M621.1 0V40"/>
</g>
<!-- S3 -->
<g transform="translate(0,721)">
<path class="bb" d="M55.6 0V40M64 0V40M81 0V40M83.6 0V40M85 0V40M86.1 0V40M97.7 0V40M101.8 0V40M178.7 0V40M179.8 0V40M185.3 0V40M200.2 0V40M218 0V40M235 0V40M247 0V40M263 0V40M274.2 0V40M275.1 0V40M284 0V40M288.6 0V40M290 0V40M291.1 0V40M303.2 0V40M323.1 0V40M332.8 0V40M337.8 0V40M347.8 0V40M353.8 0V40M370.8 0V40M387.3 0V40M409.8 0V40M421.8 0V40M424.7 0V40M426.2 0V40M427.7 0V40M429.1 0V40M440.8 0V40M456.9 0V40M458 0V40M459.1 0V40M464.4 0V40M469.2 0V40M474.7 0V40M481.8 0V40M488.8 0V40M493.8 0V40M498.8 0V40M526 0V40M528.8 0V40M537.8 0V40M540.9 0V40M542.3 0V40M543.7 0V40M545.1 0V40M557.8 0V40M566.8 0V40M591.8 0V40M594.8 0V40M600.8 0V40M611.8 0V40M616.9 0V40M618.3 0V40M619.7 0V40M621.1 0V40"/>
<path class="br" d="M135 0V40M137.8 0V40M141 0V40"/>
</g>
<!-- S5 -->
<g transform="translate(0,782)">
<path class="br" d="M55.6 0V40M64 0V40M81 0V40M83.6 0V40M85 0V40M86.1 0V40M97.7 0V40M101.8 0V40M178.7 0V40M179.8 0V40M185.3 0V40M200.2 0V40M218 0V40M235 0V40M247 0V40M263 0V40M274.2 0V40M275.1 0V40M284 0V40M288.6 0V40M290 0V40M291.1 0V40M303.2 0V40M135 0V40M137.8 0V40M141 0V40M323.1 0V40M332.8 0V40M337.8 0V40M347.8 0V40M353.8 0V40M370.8 0V40M387.3 0V40M409.8 0V40M421.8 0V40M424.7 0V40M426.2 0V40M427.7 0V40M429.1 0V40M440.8 0V40M456.9 0V40M458 0V40M459.1 0V40M464.4 0V40M469.2 0V40M474.7 0V40M481.8 0V40M488.8 0V40M493.8 0V40M498.8 0V40M526 0V40M528.8 0V40M537.8 0V40M540.9 0V40M542.3 0V40M543.7 0V40M545.1 0V40M557.8 0V40M566.8 0V40M591.8 0V40M594.8 0V40M600.8 0V40M611.8 0V40M616.9 0V40M618.3 0V40M619.7 0V40M621.1 0V40"/>
</g>
<!-- S9 -->
<g transform="translate(0,832)">
<path class="br" d="M55.6 0V40M64 0V40M81 0V40M83.6 0V40M85 0V40M86.1 0V40M97.7 0V40M101.8 0V40M178.7 0V40M179.8 0V40M185.3 0V40M200.2 0V40M218 0V40M235 0V40M247 0V40M263 0V40M274.2 0V40M275.1 0V40M284 0V40M288.6 0V40M290 0V40M291.1 0V40M303.2 0V40M135 0V40M137.8 0V40M141 0V40M323.1 0V40M332.8 0V40M337.8 0V40M347.8 0V40M353.8 0V40M370.8 0V40M387.3 0V40M409.8 0V40M421.8 0V40M424.7 0V40M426.2 0V40M427.7 0V40M429.1 0V40M440.8 0V40M456.9 0V40M458 0V40M459.1 0V40M464.4 0V40M469.2 0V40M474.7 0V40M481.8 0V40M488.8 0V40M493.8 0V40M498.8 0V40M526 0V40M528.8 0V40M537.8 0V40M540.9 0V40M542.3 0V40M543.7 0V40M545.1 0V40M557.8 0V40M566.8 0V40M591.8 0V40M594.8 0V40M600.8 0V40M611.8 0V40M616.9 0V40M618.3 0V40M619.7 0V40M621.1 0V40"/>
</g>

<!-- black dots at bottom -->
<g fill="#000">
<circle cx="134.5" cy="875" r="1.9"/><circle cx="137.8" cy="875" r="1.9"/><circle cx="141" cy="875" r="1.9"/>
<circle cx="353.8" cy="875" r="1.9"/><circle cx="370.8" cy="875" r="1.9"/><circle cx="387.3" cy="875" r="1.9"/>
<circle cx="424.5" cy="875" r="1.9"/><circle cx="427" cy="875" r="1.9"/><circle cx="429.5" cy="875" r="1.9"/>
</g>

<!-- barcode labels -->
<text class="lab2" transform="translate(20,466.5) rotate(-90)">S6_c4</text>
<text class="lab2" transform="translate(20,522) rotate(-90)">S10_c4</text>
<text class="lab2" transform="translate(20,577.5) rotate(-90)">S7_c4</text>
<text class="lab2" transform="translate(20,633) rotate(-90)">S8_c4</text>
<text class="lab2" transform="translate(20,688.5) rotate(-90)">S4_c4</text>
<text class="lab2" transform="translate(20,744) rotate(-90)">S3_c4</text>
<text class="lab2" transform="translate(20,799.5) rotate(-90)">S5_c4</text>
<text class="lab2" transform="translate(20,855) rotate(-90)">S9_c4</text>
</svg>
</body></html>
